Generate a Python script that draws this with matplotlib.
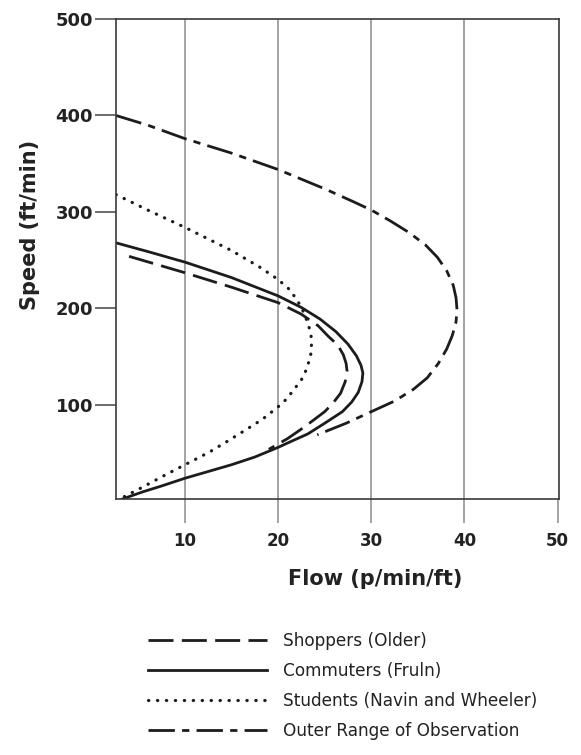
import matplotlib
matplotlib.use("Agg")
import matplotlib.pyplot as plt

# values (flow in p/min/ft, speed in ft/min)
shoppers_flow = [4.0, 10.0, 15.0, 20.0, 22.5, 24.3, 25.4, 26.4, 27.0, 27.3, 27.4, 27.2,
                 26.7, 25.9, 25.0, 23.9, 22.8, 21.0, 19.0]
shoppers_speed = [254, 237, 222, 206, 194, 182, 171, 162, 152, 143, 135, 124,
                  112, 102, 93, 85, 77, 65, 54]

commuters_flow = [2.6, 6.0, 10.0, 15.0, 20.0, 22.5, 24.5, 26.2, 27.5, 28.4, 28.9, 29.1,
                  29.0, 28.6, 27.9, 26.9, 25.0, 23.2, 20.9, 20.0, 17.5, 15.0, 12.5,
                  10.0, 7.5, 5.5, 3.3]
commuters_speed = [268, 259, 248, 232, 213, 201, 189, 176, 163, 151, 141, 133,
                   124, 113, 103, 93, 81, 70, 60, 56, 46, 38, 31,
                   24, 16, 10, 2.5]

students_flow = [2.6, 6.0, 10.0, 15.0, 18.0, 20.0, 21.3, 22.2, 22.8, 23.2, 23.5, 23.6,
                 23.5, 23.1, 22.5, 21.7, 20.9, 20.0, 18.3, 16.5, 14.5, 12.6, 10.0,
                 8.0, 5.5, 3.5]
students_speed = [318, 302, 284, 260, 243, 230, 219, 206, 195, 184, 175, 165,
                  152, 138, 126, 116, 106, 98, 85, 74, 62, 51, 38,
                  28, 15, 5]

outer_flow = [2.6, 6.0, 10.0, 15.0, 20.0, 25.0, 28.0, 30.0, 32.0, 34.0, 35.8, 37.1,
              38.1, 38.8, 39.1, 39.2, 39.1, 38.7, 38.1, 37.2, 36.0, 34.5, 32.5,
              30.0, 27.3, 24.2]
outer_speed = [400, 390, 376, 361, 344, 324, 311, 302, 291, 279, 266, 253,
               239, 224, 211, 199, 186, 172, 158, 143, 128, 116, 104,
               93, 81, 69]

series_labels = ["Shoppers (Older)", "Commuters (Fruln)",
                 "Students (Navin and Wheeler)", "Outer Range of Observation"]
x_ticks = [10, 20, 30, 40, 50]
y_ticks = [100, 200, 300, 400, 500]

ink = "#1c1c1c"

fig = plt.figure(figsize=(5.81, 7.55), dpi=100)
ax = fig.add_axes([0.1997, 0.3391, 0.7624, 0.6357])

ax.plot(shoppers_flow, shoppers_speed, color=ink, lw=2.0,
        linestyle=(0, (9, 3)), label=series_labels[0])
ax.plot(commuters_flow, commuters_speed, color=ink, lw=2.0,
        linestyle="-", label=series_labels[1])
ax.plot(students_flow, students_speed, color=ink, lw=2.3,
        linestyle=(0, (0.1, 2.7)), dash_capstyle="round", label=series_labels[2])
ax.plot(outer_flow, outer_speed, color=ink, lw=2.0,
        linestyle=(0, (9.5, 2.6, 2.6, 2.6)), label=series_labels[3])

ax.set_xlim(2.6, 50.15)
ax.set_ylim(2.5, 500)
ax.set_xticks(x_ticks)
ax.set_yticks(y_ticks)
ax.grid(axis="x", color="#8a8a8a", lw=1.1)
ax.set_axisbelow(True)
ax.xaxis.get_gridlines()[-1].set_visible(False)

for side in ["left", "bottom", "top", "right"]:
    ax.spines[side].set_color("#3a3a3a")
    ax.spines[side].set_linewidth(1.2)

ax.tick_params(axis="x", length=17, width=1.1, color="#8a8a8a", pad=7,
               labelsize=12, labelcolor="#222222")
ax.tick_params(axis="y", length=15, width=1.1, color="#444444", pad=1.5,
               labelsize=13, labelcolor="#222222")
for lab in ax.get_xticklabels() + ax.get_yticklabels():
    lab.set_fontweight("bold")

ax.set_xlabel("Flow (p/min/ft)", fontsize=15, fontweight="bold", color="#222222")
ax.xaxis.set_label_coords(0.585, -0.146)
ax.set_ylabel("Speed (ft/min)", fontsize=15, fontweight="bold", color="#222222")
ax.yaxis.set_label_coords(-0.172, 0.571)

fig.legend(loc="upper left", bbox_to_anchor=(148 / 581, 1 - 632 / 755),
           frameon=False, fontsize=12.2, handlelength=7.05, handletextpad=0.94,
           labelspacing=0.7, borderpad=0, borderaxespad=0,
           labelcolor="#222222")

fig.savefig("out.png", dpi=100)
